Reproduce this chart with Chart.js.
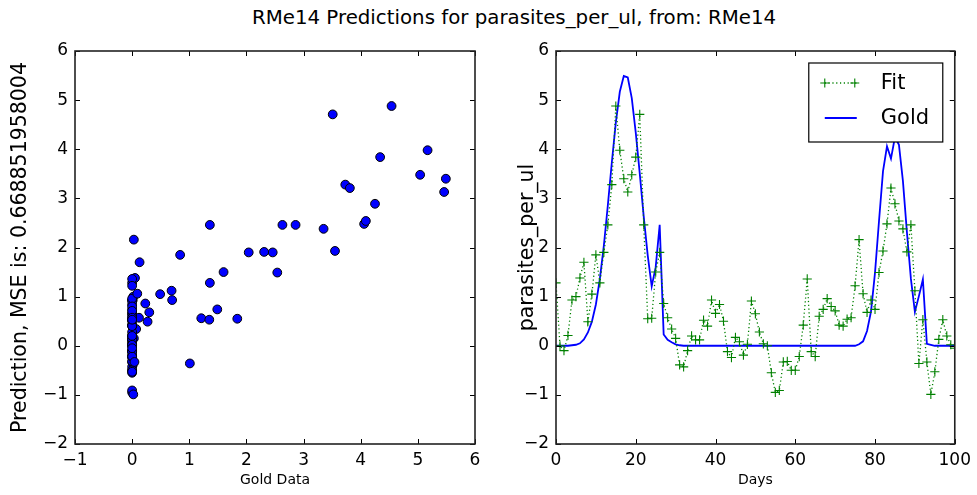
<!DOCTYPE html>
<html>
<head>
<meta charset="utf-8">
<script src="https://cdn.jsdelivr.net/npm/chart.js@4.4.0/dist/chart.umd.min.js"></script>
<style>
  body { margin: 0; background: #fff; width: 977px; height: 495px; position: relative; overflow: hidden; font-family: "DejaVu Sans", sans-serif; }
  #titulo { position: absolute; left: 50px; width: 928px; top: 6px; text-align: center; font-size: 19.8px; line-height: 24px; color: #000; }
  .panel { position: absolute; top: 0; }
</style>
</head>
<body>
<div id="titulo">RMe14 Predictions for parasites_per_ul, from: RMe14</div>
<canvas id="scatterCanvas" class="panel" width="490" height="495" style="left:0"></canvas>
<canvas id="serieCanvas" class="panel" width="487" height="495" style="left:490px"></canvas>
<script>
// dias de la serie (eje x del panel derecho)
const days = [
  0, 1, 2, 3, 4, 5, 6, 7, 8, 9, 10, 11, 12, 13, 14, 15, 16, 17, 18, 19,
  20, 21, 22, 23, 24, 25, 26, 27, 28, 29, 30, 31, 32, 33, 34, 35, 36, 37, 38, 39,
  40, 41, 42, 43, 44, 45, 46, 47, 48, 49, 50, 51, 52, 53, 54, 55, 56, 57, 58, 59,
  60, 61, 62, 63, 64, 65, 66, 67, 68, 69, 70, 71, 72, 73, 74, 75, 76, 77, 78, 79,
  80, 81, 82, 83, 84, 85, 86, 87, 88, 89, 90, 91, 92, 93, 94, 95, 96, 97, 98, 99, 100
];

// valores reales (Gold)
const goldValues = [
  0, 0, 0, 0, 0.01, 0.02, 0.05, 0.13, 0.27, 0.49,
  0.84, 1.36, 2.04, 2.86, 3.73, 4.54, 5.17, 5.49, 5.46, 5.04,
  4.34, 3.51, 2.63, 1.84, 1.21, 1.60, 2.46, 0.23, 0.12, 0.07,
  0.03, 0.01, 0, 0, 0, 0, 0, 0, 0, 0,
  0, 0, 0, 0, 0, 0, 0, 0, 0, 0,
  0, 0, 0, 0, 0, 0, 0, 0, 0, 0,
  0, 0, 0, 0, 0, 0, 0, 0, 0, 0,
  0, 0, 0, 0, 0, 0, 0.03, 0.09, 0.30, 0.70,
  1.49, 2.54, 3.55, 4.06, 3.81, 4.25, 4.09, 3.35, 2.31, 1.36,
  0.69, 1.01, 1.35, 0.04, 0.02, 0, 0, 0, 0, 0,
  0
];

// prediccion del modelo (Fit)
const fitValues = [
  1.28, 0.0, -0.1, 0.21, 0.93, 1.0, 1.38, 1.7, 0.49, 1.05,
  1.85, 1.28, 1.9, 2.46, 3.28, 4.88, 3.98, 3.4, 3.13, 3.48,
  3.84, 4.71, 2.46, 0.55, 0.56, 1.5, 1.9, 0.86, 0.57, 0.34,
  0.15, -0.39, -0.43, -0.1, 0.2, 0.12, 0.12, 0.52, 0.4, 0.93,
  0.66, 0.84, 0.5, -0.12, -0.24, 0.17, 0.08, -0.19, 0.03, 0.91,
  0.65, 0.28, 0.04, 0.0, -0.55, -0.95, -0.91, -0.33, -0.32, -0.5,
  -0.5, -0.22, 0.42, 1.36, -0.12, -0.22, 0.6, 0.74, 0.96, 0.8,
  0.71, 0.42, 0.4, 0.54, 0.57, 1.22, 2.16, 1.06, 0.68, 0.93,
  0.74, 1.49, 1.93, 2.48, 3.21, 2.89, 2.54, 2.38, 1.91, 2.46,
  1.12, -0.36, 0.53, -0.33, -0.99, -0.53, 0.13, 0.53, 0.2, 0.02,
  -0.05
];

const scatterXTicks = [-1, 0, 1, 2, 3, 4, 5, 6];
const valueTicks = [-2, -1, 0, 1, 2, 3, 4, 5, 6];
const dayTicks = [0, 20, 40, 60, 80, 100];

const seriesLabels = ['Fit', 'Gold'];

const FUENTE = '"DejaVu Sans", sans-serif';

function conMenos(v) {
  return v < 0 ? '\u2212' + Math.abs(v) : String(v);
}

// marco negro con marcas hacia dentro en los cuatro lados
const marcoPlugin = {
  id: 'marco',
  afterDatasetsDraw(chart) {
    const { ctx, chartArea: a, scales } = chart;
    const largo = 5;
    ctx.save();
    ctx.strokeStyle = '#000';
    ctx.lineWidth = 1;
    scales.x.ticks.forEach((t) => {
      const px = Math.round(scales.x.getPixelForValue(t.value)) + 0.5;
      ctx.beginPath();
      ctx.moveTo(px, a.bottom); ctx.lineTo(px, a.bottom - largo);
      ctx.moveTo(px, a.top); ctx.lineTo(px, a.top + largo);
      ctx.stroke();
    });
    scales.y.ticks.forEach((t) => {
      const py = Math.round(scales.y.getPixelForValue(t.value)) + 0.5;
      ctx.beginPath();
      ctx.moveTo(a.left, py); ctx.lineTo(a.left + largo, py);
      ctx.moveTo(a.right, py); ctx.lineTo(a.right - largo, py);
      ctx.stroke();
    });
    ctx.lineWidth = 1.6;
    ctx.strokeStyle = '#222';
    ctx.strokeRect(a.left, a.top, a.right - a.left, a.bottom - a.top);
    ctx.restore();
  }
};

// leyenda con caja, como la de matplotlib
const leyendaPlugin = {
  id: 'leyendaCaja',
  afterDraw(chart) {
    const { ctx, chartArea: a } = chart;
    const w = 134, h = 79;
    const x0 = a.right - 12 - w, y0 = a.top + 12;
    ctx.save();
    ctx.fillStyle = '#fff';
    ctx.fillRect(x0, y0, w, h);
    ctx.strokeStyle = '#000';
    ctx.lineWidth = 1.2;
    ctx.strokeRect(x0, y0, w, h);

    const filas = [y0 + 20, y0 + 55];
    chart.data.datasets.forEach((ds, i) => {
      const y = filas[i];
      ctx.strokeStyle = ds.borderColor;
      ctx.lineWidth = ds.borderWidth;
      ctx.setLineDash(ds.borderDash || []);
      ctx.beginPath();
      ctx.moveTo(x0 + 16, y); ctx.lineTo(x0 + 48, y);
      ctx.stroke();
      ctx.setLineDash([]);
      if (ds.pointRadius > 0) {
        ctx.lineWidth = ds.pointBorderWidth;
        [x0 + 16, x0 + 46].forEach((cx) => {
          ctx.beginPath();
          ctx.moveTo(cx - 4.5, y); ctx.lineTo(cx + 4.5, y);
          ctx.moveTo(cx, y - 4.5); ctx.lineTo(cx, y + 4.5);
          ctx.stroke();
        });
      }
      ctx.fillStyle = '#000';
      ctx.font = '21px ' + FUENTE;
      ctx.textBaseline = 'middle';
      ctx.fillText(ds.label, x0 + 72, y + 1);
    });
    ctx.restore();
  }
};

function ejeX(min, max, paso, titulo, ticksLista) {
  return {
    type: 'linear', min, max,
    afterBuildTicks: (s) => { s.ticks = ticksLista.map((v) => ({ value: v })); },
    afterFit: (s) => { s.height = 51; },
    grid: { display: false, drawTicks: false },
    border: { display: false },
    ticks: { stepSize: paso, padding: 6, color: '#000', font: { family: FUENTE, size: 17 }, callback: conMenos },
    title: { display: true, text: titulo, color: '#000', font: { family: FUENTE, size: 14 }, padding: { top: 0, bottom: 6 } }
  };
}

function ejeY(ancho, titulo, padTitulo) {
  return {
    type: 'linear', min: -2, max: 6,
    afterBuildTicks: (s) => { s.ticks = valueTicks.map((v) => ({ value: v })); },
    afterFit: (s) => { s.width = ancho; },
    grid: { display: false, drawTicks: false },
    border: { display: false },
    ticks: { padding: 7, color: '#000', font: { family: FUENTE, size: 17 }, callback: conMenos },
    title: { display: true, text: titulo, color: '#000', font: { family: FUENTE, size: 20.5 }, padding: { top: padTitulo, bottom: 0 } }
  };
}

const puntosScatter = days.map((d, i) => ({ x: goldValues[i], y: fitValues[i] }));

new Chart(document.getElementById('scatterCanvas'), {
  type: 'scatter',
  data: {
    datasets: [{
      data: puntosScatter,
      backgroundColor: '#0000ff',
      borderColor: '#000',
      borderWidth: 1,
      pointRadius: 4.4
    }]
  },
  options: {
    responsive: false,
    devicePixelRatio: 1,
    animation: false,
    layout: { padding: { top: 51, right: 15, left: 0, bottom: 0 } },
    plugins: { legend: { display: false }, tooltip: { enabled: false } },
    scales: {
      x: ejeX(-1, 6, 1, 'Gold Data', scatterXTicks),
      y: ejeY(75, 'Prediction, MSE is: 0.668851958004', 8)
    }
  },
  plugins: [marcoPlugin]
});

new Chart(document.getElementById('serieCanvas'), {
  type: 'scatter',
  data: {
    datasets: [
      {
        label: seriesLabels[0],
        data: days.map((d, i) => ({ x: d, y: fitValues[i] })),
        showLine: true,
        borderColor: '#008000',
        borderWidth: 1.3,
        borderDash: [1.2, 2.6],
        pointStyle: 'cross',
        pointRadius: 4.6,
        pointBorderColor: '#008000',
        pointBorderWidth: 1.1,
        pointBackgroundColor: '#008000'
      },
      {
        label: seriesLabels[1],
        data: days.map((d, i) => ({ x: d, y: goldValues[i] })),
        showLine: true,
        borderColor: '#0000ff',
        borderWidth: 1.8,
        pointRadius: 0
      }
    ]
  },
  options: {
    responsive: false,
    devicePixelRatio: 1,
    animation: false,
    layout: { padding: { top: 51, right: 21, left: 0, bottom: 0 } },
    plugins: { legend: { display: false }, tooltip: { enabled: false } },
    scales: {
      x: ejeX(0, 100, 20, 'Days', dayTicks),
      y: ejeY(66, 'parasites_per_ul', 25)
    }
  },
  plugins: [marcoPlugin, leyendaPlugin]
});
</script>
</body>
</html>
